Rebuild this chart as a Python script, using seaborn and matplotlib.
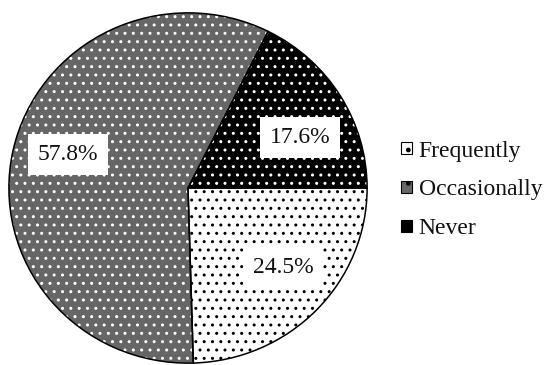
import matplotlib
matplotlib.use("Agg")
import matplotlib.pyplot as plt
import seaborn as sns
from matplotlib.patches import Patch

categories = ["Frequently", "Occasionally", "Never"]
shares = [24.5, 57.8, 17.6]
pct_labels = ["24.5%", "57.8%", "17.6%"]
face_colors = ["white", "#666666", "black"]
hatch_colors = ["black", "white", "white"]
hatches = ["..", "..", ".."]
# label anchor positions inside the pie (fraction of radius)
label_pos = [(0.53, -0.455), (-0.67, 0.19), (0.625, 0.29)]

sns.set_theme(style="white")
plt.rcParams["font.family"] = ["Liberation Serif", "DejaVu Serif"]
plt.rcParams["hatch.linewidth"] = 1.0

fig = plt.figure(figsize=(5.45, 3.65), dpi=100)
W, H = 545, 365
cx, cy, rx, ry = 188, 188, 180, 176
ax = fig.add_axes([(cx - rx) / W, (H - cy - ry) / H, 2 * rx / W, 2 * ry / H])

wedges, texts, autotexts = ax.pie(
    shares, startangle=0, counterclock=False, radius=1,
    autopct="%1.1f%%", pctdistance=0.7,
    wedgeprops=dict(linewidth=0),
    textprops=dict(fontsize=17, color="#111111"),
)
for w, fc, hc, h in zip(wedges, face_colors, hatch_colors, hatches):
    w.set_facecolor(fc)
    w.set_edgecolor(hc)
    w.set_hatch(h)
    w.set_linewidth(0)

# outlines
outl, _ = ax.pie(shares, startangle=0, counterclock=False, radius=1,
                 wedgeprops=dict(facecolor="none", edgecolor="black", linewidth=1.1))

for t, lab, pos in zip(autotexts, pct_labels, label_pos):
    t.set_text(lab)
    t.set_position(pos)
    t.set_bbox(dict(boxstyle="square,pad=0.42", facecolor="white", edgecolor="none"))
    t.set_zorder(10)

ax.set_aspect("auto")
ax.set_xlim(-1.005, 1.005)
ax.set_ylim(-1.005, 1.005)
ax.axis("off")

handles = []
for c, fc in zip(categories, face_colors):
    handles.append(Patch(facecolor=fc, edgecolor="black", hatch=".", label=c, linewidth=0.8))

leg = fig.legend(handles=handles, loc="center left", bbox_to_anchor=(401 / W, 1 - 190 / H),
                 frameon=False, fontsize=17, handlelength=0.45, handleheight=0.45,
                 handletextpad=0.3, labelspacing=0.76, borderpad=0, borderaxespad=0)
for t in leg.get_texts():
    t.set_color("#111111")

fig.savefig("out.png", dpi=100, facecolor="white")
